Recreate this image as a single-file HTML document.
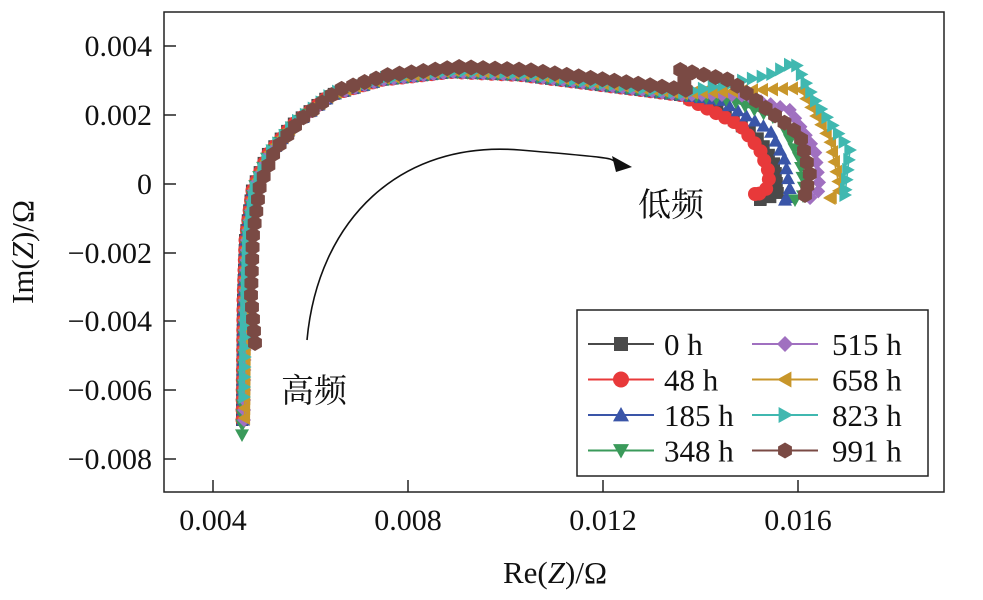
<!DOCTYPE html>
<html><head><meta charset="utf-8"><style>
body{margin:0;background:#fff}
svg text{font-family:"Liberation Serif","Noto Serif CJK SC",serif;fill:#111}
</style></head><body>
<svg id="s" width="983" height="595" xmlns="http://www.w3.org/2000/svg">
<rect x="164" y="12" width="780" height="480" fill="none" stroke="#222" stroke-width="1.5"/>
<g stroke="#222" stroke-width="1.5">
<line x1="213" y1="492" x2="213" y2="480"/><line x1="408" y1="492" x2="408" y2="480"/><line x1="603" y1="492" x2="603" y2="480"/><line x1="798" y1="492" x2="798" y2="480"/>
<line x1="164" y1="46" x2="176" y2="46"/><line x1="164" y1="115" x2="176" y2="115"/><line x1="164" y1="184" x2="176" y2="184"/><line x1="164" y1="253" x2="176" y2="253"/><line x1="164" y1="321" x2="176" y2="321"/><line x1="164" y1="390" x2="176" y2="390"/><line x1="164" y1="459" x2="176" y2="459"/>
</g>
<g font-size="30" text-anchor="end">
<text x="152" y="56">0.004</text><text x="152" y="125">0.002</text><text x="152" y="194">0</text><text x="152" y="263">−0.002</text><text x="152" y="331">−0.004</text><text x="152" y="400">−0.006</text><text x="152" y="469">−0.008</text>
</g>
<g font-size="30" text-anchor="middle">
<text x="213" y="530">0.004</text><text x="408" y="530">0.008</text><text x="603" y="530">0.012</text><text x="798" y="530">0.016</text>
<text x="555" y="583" font-size="31">Re(<tspan font-style="italic">Z</tspan>)/Ω</text>
<text transform="translate(33,252) rotate(-90)" font-size="31">Im(<tspan font-style="italic">Z</tspan>)/Ω</text>
</g>
<g id="series"></g>
<path d="M307,340 C318,220 400,140 520,150 S600,158 622,164" fill="none" stroke="#111" stroke-width="1.6"/>
<polygon points="632,167 612,156 616,172" fill="#111"/>
<text x="638" y="216" font-size="33">低频</text>
<text x="281" y="402" font-size="33">高频</text>
<rect x="577" y="310" width="351" height="166" fill="#fff" stroke="#222" stroke-width="1.5"/>
<g id="leg"></g>
</svg>
<script>
const base=[[242,420],[243,300],[245,240],[252,190],[267,155],[292,125],[330,95],[380,80],[450,72],[520,75],[600,85],[680,95]];
const S=[
["0 h","#4a4a4a","sq",[[720,110],[760,140],[775,165],[778,195],[760,200]]],
["48 h","#e8393a","ci",[[710,110],[740,125],[760,150],[770,175],[765,193],[755,194]]],
["185 h","#3a55a8","tu",[[720,100],[770,130],[785,160],[790,190],[785,200]]],
["348 h","#3a9a5a","td",[[730,100],[780,120],[800,160],[805,195],[795,200]],[[242,435]]],
["515 h","#a070c0","di",[[740,95],[790,110],[815,150],[820,190],[810,198]]],
["658 h","#c8962a","tl",[[760,90],[800,88],[830,140],[840,190],[830,198]]],
["823 h","#40b8b0","tr",[[770,75],[795,62],[815,100],[850,150],[845,195]],[[244,397]]],
["991 h","#7a4a44","hx",[[680,70],[730,80],[800,135],[810,175],[805,195]],[[255,343]]]];
function mk(t,x,y,c,r){r=r||6;
 if(t=="sq")return `<rect x="${x-r+1}" y="${y-r+1}" width="${2*r-2}" height="${2*r-2}" fill="${c}"/>`;
 if(t=="ci")return `<circle cx="${x}" cy="${y}" r="${r}" fill="${c}"/>`;
 let p;
 if(t=="tu")p=[[0,-r],[r,r*.8],[-r,r*.8]];
 if(t=="td")p=[[0,r],[r,-r*.8],[-r,-r*.8]];
 if(t=="tl")p=[[-r,0],[r*.8,-r],[r*.8,r]];
 if(t=="tr")p=[[r,0],[-r*.8,-r],[-r*.8,r]];
 if(t=="di")p=[[0,-r],[r,0],[0,r],[-r,0]];
 if(t=="hx"){p=[];for(let i=0;i<6;i++){let a=Math.PI/3*i+Math.PI/6;p.push([r*Math.cos(a),r*Math.sin(a)])}}
 return `<polygon points="${p.map(q=>(x+q[0])+','+(y+q[1])).join(' ')}" fill="${c}"/>`;}
let h='';
S.forEach((s,k)=>{let b=base.map(p=>[p[0]+(k==7?8:k*0.5),p[1]-(k==7?3:0)+(k>4?-2:0)]);
 if(s[4])b=s[4].concat(b.slice(1));
 const pts=b.concat(s[3]);
 const R=k==7?8:7;
 h+=`<polyline points="${pts.map(p=>p.join(',')).join(' ')}" fill="none" stroke="${s[1]}" stroke-width="1.5"/>`;
 let acc=0,step=(k==7?12:10);
 for(let i=0;i<pts.length-1;i++){let [x1,y1]=pts[i],[x2,y2]=pts[i+1];let L=Math.hypot(x2-x1,y2-y1);
  let d=acc;while(d<L){let t=d/L;h+=mk(s[2],x1+(x2-x1)*t,y1+(y2-y1)*t,s[1],R);d+=step}acc=d-L;}
 h+=mk(s[2],pts[pts.length-1][0],pts[pts.length-1][1],s[1],R);
});
document.getElementById('series').innerHTML=h;
let g='';
S.forEach((s,i)=>{let col=i<4?0:1,row=i%4;let y=344+row*35.5;let x0=col?752:588,x1=col?818:654,mx=col?785:621,tx=col?832:664;
 g+=`<line x1="${x0}" y1="${y}" x2="${x1}" y2="${y}" stroke="${s[1]}" stroke-width="2"/>`+mk(s[2],mx,y,s[1],8)+`<text x="${tx}" y="${y+11}" font-size="31">${s[0]}</text>`;});
document.getElementById('leg').innerHTML=g;
</script>
</body></html>
